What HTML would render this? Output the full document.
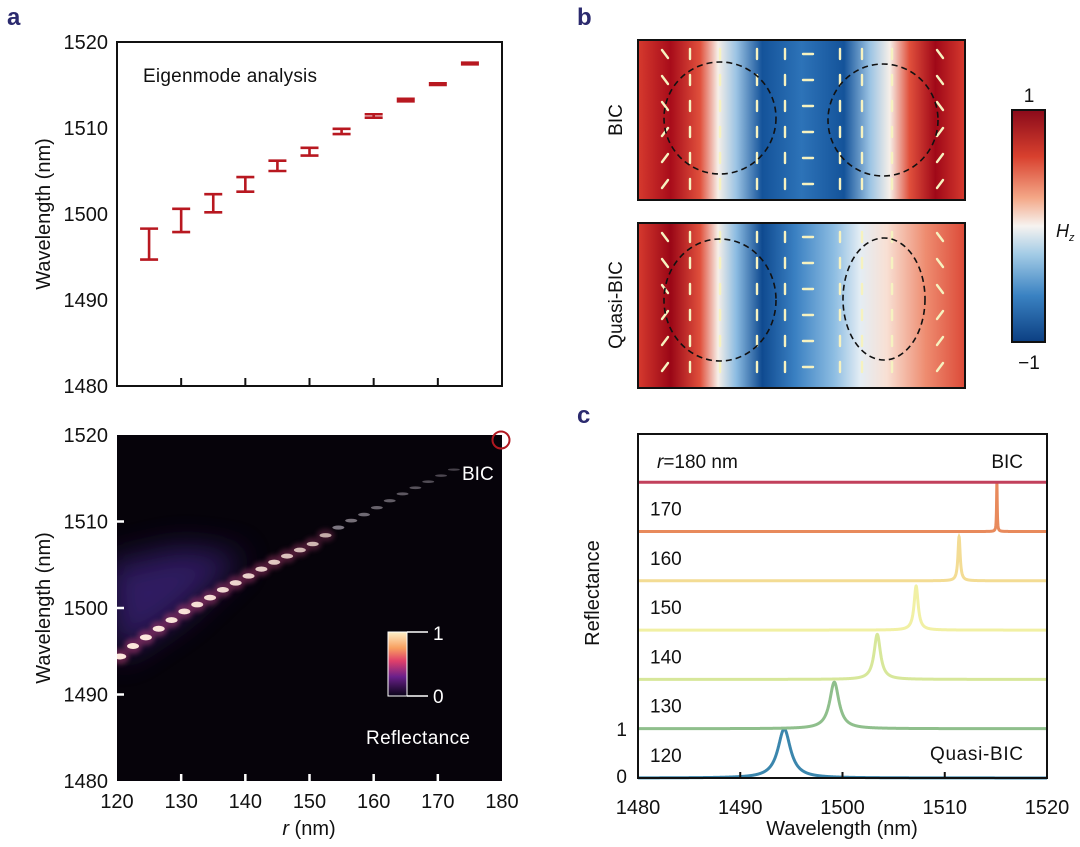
<!DOCTYPE html>
<html><head><meta charset="utf-8"><style>
body{margin:0;background:#fff;width:1080px;height:842px;overflow:hidden;font-family:"Liberation Sans",sans-serif}
svg text{font-family:"Liberation Sans",sans-serif}
</style></head><body>
<svg id="fig" width="1080" height="842" viewBox="0 0 1080 842" xmlns="http://www.w3.org/2000/svg">
<defs>
<filter id="blur2" x="-50%" y="-50%" width="200%" height="200%"><feGaussianBlur stdDeviation="2.5"/></filter>
<filter id="blur8" x="-50%" y="-50%" width="200%" height="200%"><feGaussianBlur stdDeviation="16"/></filter>
<linearGradient id="gTop" x1="0" x2="1" y1="0" y2="0">
<stop offset="0" stop-color="#d63a2e"/><stop offset="0.1" stop-color="#a80c1a"/><stop offset="0.19" stop-color="#e0503c"/><stop offset="0.245" stop-color="#f6efe8"/><stop offset="0.3" stop-color="#9cc4e4"/><stop offset="0.38" stop-color="#14539a"/><stop offset="0.5" stop-color="#2d73b8"/><stop offset="0.63" stop-color="#14539a"/><stop offset="0.71" stop-color="#9cc4e4"/><stop offset="0.77" stop-color="#f6efe8"/><stop offset="0.83" stop-color="#e0503c"/><stop offset="0.91" stop-color="#a00818"/><stop offset="1" stop-color="#d63a2e"/></linearGradient>
<linearGradient id="gBot" x1="0" x2="1" y1="0" y2="0">
<stop offset="0" stop-color="#d63a2e"/><stop offset="0.1" stop-color="#9a0616"/><stop offset="0.19" stop-color="#e0503c"/><stop offset="0.245" stop-color="#f6efe8"/><stop offset="0.3" stop-color="#8cbce2"/><stop offset="0.38" stop-color="#0f4a90"/><stop offset="0.48" stop-color="#3a80c2"/><stop offset="0.6" stop-color="#8dbde2"/><stop offset="0.68" stop-color="#e4edf4"/><stop offset="0.76" stop-color="#f8e0d4"/><stop offset="0.88" stop-color="#ee8c70"/><stop offset="1" stop-color="#dc4a38"/></linearGradient>
<linearGradient id="gCbar" x1="0" x2="0" y1="0" y2="1">
<stop offset="0" stop-color="#8a0a1a"/><stop offset="0.2" stop-color="#d8402e"/><stop offset="0.38" stop-color="#f4a888"/><stop offset="0.5" stop-color="#f6f3f0"/><stop offset="0.62" stop-color="#a4cce6"/><stop offset="0.8" stop-color="#3a82c2"/><stop offset="1" stop-color="#0c3f82"/></linearGradient>
<linearGradient id="gMag" x1="0" x2="0" y1="0" y2="1">
<stop offset="0" stop-color="#fdf0c8"/><stop offset="0.25" stop-color="#f8a060"/><stop offset="0.45" stop-color="#e0406a"/><stop offset="0.7" stop-color="#6a208a"/><stop offset="1" stop-color="#0a0418"/></linearGradient>
<clipPath id="clipHeat"><rect x="117" y="435" width="385" height="346"/></clipPath>
</defs>

<text x="7" y="25" font-size="24" font-weight="bold" fill="#2b2a6e">a</text>
<text x="577" y="25" font-size="24" font-weight="bold" fill="#2b2a6e">b</text>
<text x="577" y="423" font-size="24" font-weight="bold" fill="#2b2a6e">c</text>

<g id="aTop">
<rect x="117" y="42" width="385" height="344" fill="none" stroke="#111" stroke-width="2"/>
<text x="143" y="82" font-size="19" fill="#111" textLength="174">Eigenmode analysis</text>
<text transform="translate(50,214) rotate(-90)" text-anchor="middle" font-size="20" fill="#111">Wavelength (nm)</text>
</g>

<g id="aBot">
<rect x="117" y="435" width="385" height="346" fill="#06030a"/>
<g id="heatLayer" clip-path="url(#clipHeat)"></g>
<text x="462" y="480" font-size="19" fill="#fff">BIC</text>
<circle cx="501" cy="440" r="8.5" fill="none" stroke="#b01820" stroke-width="2"/>
<rect x="388" y="632" width="19" height="64" fill="url(#gMag)" stroke="#fff" stroke-width="1"/>
<path d="M407 632 H428 M407 696 H428" stroke="#fff" stroke-width="1.5"/>
<text x="433" y="640" font-size="19" fill="#fff">1</text>
<text x="433" y="703" font-size="19" fill="#fff">0</text>
<text x="366" y="744" font-size="19" fill="#fff" textLength="104">Reflectance</text>
<text transform="translate(50,608) rotate(-90)" text-anchor="middle" font-size="20" fill="#111">Wavelength (nm)</text>
<text x="309" y="835" text-anchor="middle" font-size="20" fill="#111"><tspan font-style="italic">r</tspan> (nm)</text>
</g>

<g id="pb">
<rect x="638" y="40" width="327" height="160" fill="url(#gTop)" stroke="#111" stroke-width="2"/>
<rect x="638" y="223" width="327" height="165" fill="url(#gBot)" stroke="#111" stroke-width="2"/>
<g id="arrows"></g>
<ellipse cx="720" cy="118" rx="56" ry="56" fill="none" stroke="#111" stroke-width="1.6" stroke-dasharray="6,4"/>
<ellipse cx="883" cy="120" rx="55" ry="56" fill="none" stroke="#111" stroke-width="1.6" stroke-dasharray="6,4"/>
<ellipse cx="720" cy="300" rx="56" ry="61" fill="none" stroke="#111" stroke-width="1.6" stroke-dasharray="6,4"/>
<ellipse cx="884" cy="299" rx="41" ry="61" fill="none" stroke="#111" stroke-width="1.6" stroke-dasharray="6,4"/>
<text transform="translate(622,120) rotate(-90)" text-anchor="middle" font-size="19" fill="#111">BIC</text>
<text transform="translate(622,305) rotate(-90)" text-anchor="middle" font-size="19" fill="#111">Quasi-BIC</text>
<rect x="1012" y="110" width="33" height="232" fill="url(#gCbar)" stroke="#111" stroke-width="2"/>
<text x="1029" y="102" text-anchor="middle" font-size="19" fill="#111">1</text>
<text x="1029" y="369" text-anchor="middle" font-size="19" fill="#111">−1</text>
<text x="1056" y="237" font-size="18" font-style="italic" fill="#111">H<tspan font-size="11" dy="4">z</tspan></text>
</g>

<g id="pc">
<g id="specLayer"></g>
<rect x="638" y="434" width="409" height="344" fill="none" stroke="#111" stroke-width="2"/>
<text x="1023" y="468" text-anchor="end" font-size="19" fill="#111">BIC</text>
<text x="1023" y="760" text-anchor="end" font-size="19" fill="#111" textLength="93">Quasi-BIC</text>
<text transform="translate(599,593) rotate(-90)" text-anchor="middle" font-size="20" fill="#111">Reflectance</text>
<text x="627" y="736" text-anchor="end" font-size="19" fill="#111">1</text>
<text x="627" y="783" text-anchor="end" font-size="19" fill="#111">0</text>
<text x="842" y="835" text-anchor="middle" font-size="20" fill="#111">Wavelength (nm)</text>
</g>
</svg>
<script>
const eigR = [125,130,135,140,145,150,155,160,165,170,175];
const eigLow = [1494.7,1497.9,1500.2,1502.6,1505.0,1506.8,1509.3,1511.2,1513.1,1515.0,1517.4];
const eigHigh = [1498.3,1500.6,1502.3,1504.3,1506.2,1507.7,1509.9,1511.6,1513.4,1515.2,1517.6];
const aYTicks = [1480,1490,1500,1510,1520];
const aXTicks = [120,130,140,150,160,170,180];
const heatR = [120.5,122.5,124.5,126.5,128.5,130.5,132.5,134.5,136.5,138.5,140.5,142.5,144.5,146.5,148.5,150.5,152.5,154.5,156.5,158.5,160.5,162.5,164.5,166.5,168.5,170.5,172.5];
const heatWl = [1494.4,1495.6,1496.6,1497.6,1498.6,1499.6,1500.4,1501.2,1502.1,1502.9,1503.7,1504.5,1505.3,1506.0,1506.7,1507.4,1508.4,1509.3,1510.1,1510.8,1511.6,1512.4,1513.2,1513.9,1514.6,1515.3,1516.0];
const heatI = [1,1,1,0.98,0.97,0.96,0.95,0.93,0.9,0.88,0.86,0.83,0.8,0.76,0.72,0.68,0.62,0.56,0.5,0.45,0.4,0.36,0.32,0.28,0.24,0.2,0.16];
const specR = [120,130,140,150,160,170,180];
const specPeak = [1494.3,1499.2,1503.4,1507.2,1511.4,1515.1,1515.1];
const specGamma = [0.75,0.55,0.38,0.24,0.13,0.04,0.02];
const specAmp = [1,0.95,0.92,0.9,0.9,1.0,0];
const specColor = ['#3b86ad','#8fbf8c','#d7e79a','#f1f0a4','#f3dc94','#e88a5c','#c2405c'];
const cXTicks = [1480,1490,1500,1510,1520];

const NS='http://www.w3.org/2000/svg';
function mk(tag, attrs, parent){const e=document.createElementNS(NS,tag);for(const k in attrs)e.setAttribute(k,attrs[k]);parent.appendChild(e);return e;}
const xA=r=>117+(r-120)*385/60;
const yA=w=>386-(w-1480)*344/40;
const yB=w=>781-(w-1480)*346/40;
const xC=w=>638+(w-1480)*409/40;
const cBase=i=>778-i*49.3;
const cH=49;

const aTop=document.getElementById('aTop');
aYTicks.forEach(t=>{
  const e=mk('text',{x:108,y:yA(t)+7,'text-anchor':'end','font-size':20,fill:'#111'},aTop);e.textContent=t;
  
  
});
aXTicks.slice(1,-1).forEach(t=>{
  const l=mk('line',{x1:xA(t),x2:xA(t),y1:386,y2:378,stroke:'#111','stroke-width':2},aTop);
  
  
});
eigR.forEach((r,i)=>{
  const x=xA(r),y1=yA(eigHigh[i]),y2=yA(eigLow[i]);
  const g=mk('g',{stroke:'#b81820','stroke-width':2.6,fill:'none'},aTop);
  
  
  mk('path',{d:`M${x-9} ${y1}H${x+9}M${x} ${y1}V${y2}M${x-9} ${y2}H${x+9}`},g);
});

const aBot=document.getElementById('aBot');
const hl=document.getElementById('heatLayer');
const glowPts=[[105,yB(1505)],[xA(130),yB(1507)],[xA(140),yB(1506)],[xA(130),yB(1499)],[xA(120),yB(1494)]];
const glow=mk('polygon',{points:glowPts.map(p=>p.join(',')).join(' '),fill:'#3a2078',opacity:0.8,filter:'url(#blur8)'},hl);


heatR.forEach((r,i)=>{
  const x=xA(r),y=yB(heatWl[i]),I=heatI[i];
  if(I>0.6){
    const halo=mk('ellipse',{cx:x,cy:y,rx:9,ry:4+4*I,fill:'#c0407a',opacity:0.45*I,filter:'url(#blur2)'},hl);
    
    
  }
  const d=mk('ellipse',{cx:x,cy:y,rx:6,ry:0.8+2.2*I,fill:I>0.6?'#fde8dc':'#b8b0bc',opacity:0.25+0.75*I},hl);
  
  
});
aYTicks.forEach(t=>{
  const e=mk('text',{x:108,y:yB(t)+7,'text-anchor':'end','font-size':20,fill:'#111'},aBot);e.textContent=t;
  
  
  if(t>1480&&t<1520){const l=mk('line',{x1:117,x2:124,y1:yB(t),y2:yB(t),stroke:'#fff','stroke-width':2.5},aBot);
  
  }
});
aXTicks.forEach(t=>{
  const e=mk('text',{x:xA(t),y:808,'text-anchor':'middle','font-size':20,fill:'#111'},aBot);e.textContent=t;
  
  
  if(t>120&&t<180){const l=mk('line',{x1:xA(t),x2:xA(t),y1:781,y2:774,stroke:'#fff','stroke-width':2.5},aBot);
  
  }
});

const arr=document.getElementById('arrows');
const arrowCols=[[665,2],[690,-1],[720,-1],[757,-1],[785,-1],[808,0],[840,1],[862,1],[892,-1],[940,2]];
[[40,200],[223,388]].forEach(([y0,y1],row)=>{
  arrowCols.forEach(([x,dir])=>{
    for(let y=y0+14;y<y1-8;y+=26){
      let dx=0,dy=-10;
      if(dir===0){dx=(y<(y0+y1)/2)?10:-10;dy=0;}
      else if(dir===1&&row===0){dy=10;}
      else if(dir===2){dx=(y<(y0+y1)/2)?-6:6;dy=-8;}
      const a=mk('path',{d:`M${x-dx/2} ${y-dy/2}L${x+dx/2} ${y+dy/2}`,stroke:'#f6f2c0','stroke-width':2.4,'stroke-linecap':'round'},arr);
      
      
    }
  });
});

const pc=document.getElementById('pc'),sl=document.getElementById('specLayer');
specR.forEach((r,i)=>{
  const b=cBase(i);let d='';
  for(let w=1480;w<=1520.0001;w+=0.01){
    const u=(w-specPeak[i])/specGamma[i];
    const L=specAmp[i]/(1+u*u);
    const y=b-cH*L;
    d+=(d?'L':'M')+xC(w).toFixed(2)+' '+y.toFixed(2);
  }
  const p=mk('path',{d:d,fill:'none',stroke:specColor[i],'stroke-width':3},sl);
  
  
  const t=mk('text',{x:650,y:b-16,'font-size':19,fill:'#111'},pc);
  t.textContent=(r===180)?'':r;
  
  
  if(r===180){t.setAttribute('y',b-14);t.setAttribute('x',657);t.innerHTML='<tspan font-style="italic">r</tspan>=180 nm';}
});
cXTicks.forEach(t=>{
  const e=mk('text',{x:xC(t),y:814,'text-anchor':'middle','font-size':20,fill:'#111'},pc);e.textContent=t;
  
  
  if(t>1480&&t<1520){const l=mk('line',{x1:xC(t),x2:xC(t),y1:778,y2:772,stroke:'#111','stroke-width':2},pc);
  
  }
});
</script>
</body></html>
